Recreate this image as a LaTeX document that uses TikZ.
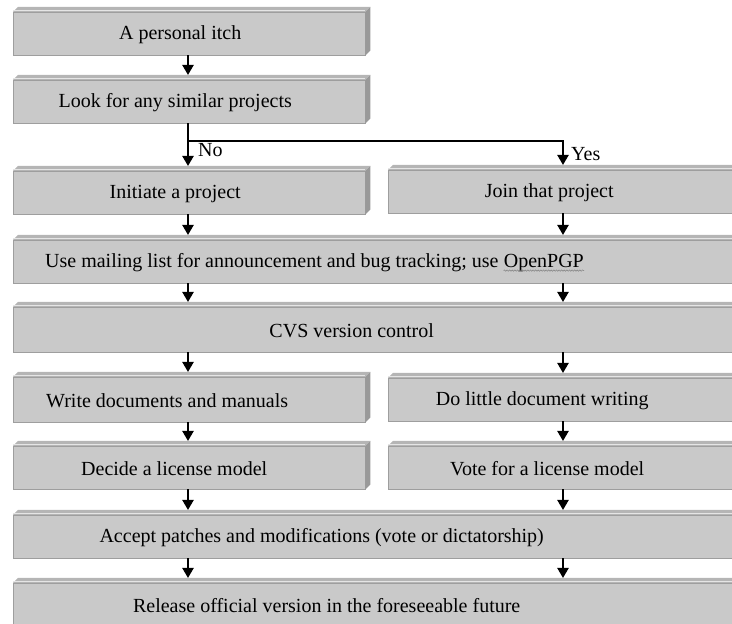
\documentclass[tikz,border=0pt]{standalone}
\usepackage{fontspec}
\setmainfont{Liberation Serif}
\usepackage{tikz}
\usetikzlibrary{arrows.meta,positioning,decorations.pathmorphing}
\definecolor{panelgray}{gray}{0.79}
\definecolor{paneledge}{gray}{0.62}
\definecolor{bevellight}{gray}{0.71}
\definecolor{beveldark}{gray}{0.6}
\tikzstyle{panel} =[draw=paneledge, fill=panelgray, rectangle, anchor=north west, minimum height=43pt, inner sep=0pt]
\tikzstyle{leftpanel} =[panel, minimum width=352pt]
\tikzstyle{rightpanel} =[panel, minimum width=372pt]
\tikzstyle{fullpanel} =[panel, minimum width=747pt]
\tikzstyle{paneltext} =[inner sep=0pt, font=\fontsize{20}{23}\selectfont]
\tikzstyle{flowarrow} =[line width=2.2pt, -{Triangle[width=11pt,length=10pt]}]
\tikzstyle{squiggle} =[gray, line width=0.5pt, decorate, decoration={snake, amplitude=0.7pt, segment length=2.6pt}]
\begin{document}
\begin{tikzpicture}[x=1pt,y=1pt]
\useasboundingbox (0,0) rectangle (732,624);
\clip (0,0) rectangle (732,624);
% boxes
\node[leftpanel] (itch) at (13,612) {};
\node[leftpanel] (look) at (13,544) {};
\node[leftpanel] (init) at (13,453) {};
\node[rightpanel] (join) at (388,454) {};
\node[fullpanel] (mail) at (13,384) {};
\node[fullpanel, minimum height=45pt] (cvs) at (13,317) {};
\node[leftpanel, minimum height=45pt] (write) at (13,247) {};
\node[rightpanel] (little) at (388,246) {};
\node[leftpanel] (decide) at (13,178) {};
\node[rightpanel] (vote) at (388,178) {};
\node[fullpanel] (accept) at (13,109) {};
\node[fullpanel] (release) at (13,41) {};
% 3d edges
\foreach \b in {itch,look,init,join,mail,cvs,write,little,decide,vote,accept,release} {
  \fill[bevellight] (\b.north west) -- ++(5,5) -- ([shift={(5,5)}]\b.north east) -- (\b.north east) -- cycle;
  \draw[gray!20, line width=0.8pt] ([yshift=1.2pt]\b.north west) -- ([yshift=1.2pt]\b.north east);
  \fill[beveldark] (\b.north east) -- ++(5,5) -- ([shift={(5,5)}]\b.south east) -- (\b.south east) -- cycle;
  \coordinate (\b-top) at ([yshift=5pt]\b.north);
}
% texts
\node[paneltext] (itchtxt) at ([xshift=-9pt,yshift=-1pt]itch.center) {A personal itch};
\node[paneltext] (looktxt) at ([xshift=-14pt,yshift=-1pt]look.center) {Look for any similar projects};
\node[paneltext] (inittxt) at ([xshift=-14pt,yshift=-1pt]init.center) {Initiate a project};
\node[paneltext] (jointxt) at ([xshift=-25pt,yshift=-1pt]join.center) {Join that project};
\node[paneltext, anchor=west] (mailtxt) at ([xshift=32pt,yshift=-1pt]mail.west) {Use mailing list for announcement and bug tracking; use};
\node[paneltext, anchor=base west] (pgp) at ([xshift=5pt]mailtxt.base east) {OpenPGP};
\draw[squiggle] ([yshift=-3pt]pgp.base west) -- ([yshift=-3pt]pgp.base east);
\node[paneltext] (cvstxt) at ([xshift=-35pt,yshift=-1pt]cvs.center) {CVS version control};
\node[paneltext] (writetxt) at ([xshift=-22pt,yshift=-1pt]write.center) {Write documents and manuals};
\node[paneltext] (littletxt) at ([xshift=-32pt,yshift=-1pt]little.center) {Do little document writing};
\node[paneltext] (decidetxt) at ([xshift=-15pt,yshift=-1pt]decide.center) {Decide a license model};
\node[paneltext] (votetxt) at ([xshift=-27pt,yshift=-1pt]vote.center) {Vote for a license model};
\node[paneltext] (accepttxt) at ([xshift=-65pt,yshift=-1pt]accept.center) {Accept patches and modifications (vote or dictatorship)};
\node[paneltext] (releasetxt) at ([xshift=-60pt,yshift=-1pt]release.center) {Release official version in the foreseeable future};
% arrows
\coordinate (lcol) at (188,0);
\coordinate (rcol) at (563,0);
\coordinate (forkl) at (188,483);
\coordinate (forkr) at (563,483);
\draw[flowarrow] (itch.south -| lcol) -- (look-top -| lcol);
\draw[flowarrow] (look.south -| lcol) -- (init-top -| lcol);
\draw[flowarrow] (forkl) -- (forkr) -- (join-top -| rcol);
\node[paneltext, anchor=north west] (nolabel) at ([xshift=10pt,yshift=-2pt]forkl) {No};
\node[paneltext, anchor=north west] (yeslabel) at ([xshift=8pt,yshift=-6pt]forkr) {Yes};
\draw[flowarrow] (init.south -| lcol) -- (mail-top -| lcol);
\draw[flowarrow] (join.south -| rcol) -- (mail-top -| rcol);
\foreach \c in {lcol,rcol} {
  \draw[flowarrow] (mail.south -| \c) -- (cvs-top -| \c);
  \draw[flowarrow] (accept.south -| \c) -- (release-top -| \c);
}
\draw[flowarrow] (cvs.south -| lcol) -- (write-top -| lcol);
\draw[flowarrow] (cvs.south -| rcol) -- (little-top -| rcol);
\draw[flowarrow] (write.south -| lcol) -- (decide-top -| lcol);
\draw[flowarrow] (little.south -| rcol) -- (vote-top -| rcol);
\draw[flowarrow] (decide.south -| lcol) -- (accept-top -| lcol);
\draw[flowarrow] (vote.south -| rcol) -- (accept-top -| rcol);
\end{tikzpicture}
\end{document}
